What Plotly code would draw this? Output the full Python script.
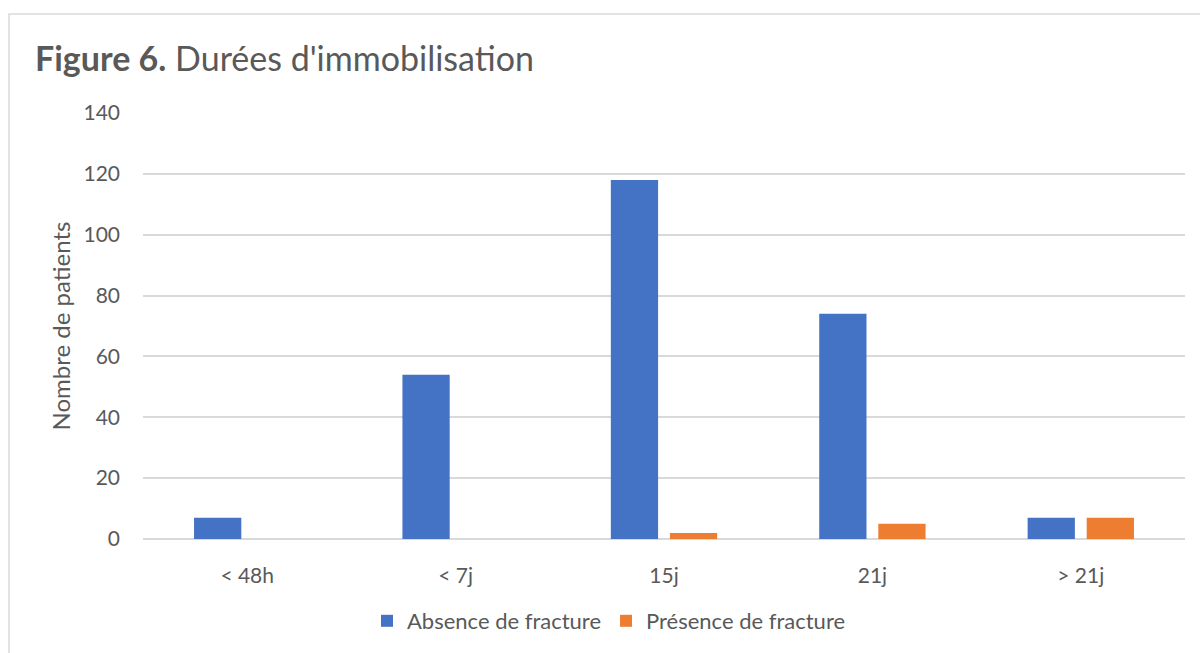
import plotly.graph_objects as go

categories = ["< 48h", "< 7j", "15j", "21j", "> 21j"]
absence = [7, 54, 118, 74, 7]
presence = [0, 0, 2, 5, 7]
series_names = ["Absence de fracture", "Présence de fracture"]
y_ticks = [0, 20, 40, 60, 80, 100, 120, 140]

W, H = 1200, 653
ML, MR, MT, MB = 143, 15, 113, 114
PW = W - ML - MR
PH = H - MT - MB

FONT = "Lato, 'Open Sans', sans-serif"
TXT = "#595959"

fig = go.Figure()
fig.add_trace(go.Bar(x=categories, y=absence, name=series_names[0],
                     marker=dict(color="#4472C4", line=dict(width=0))))
fig.add_trace(go.Bar(x=categories, y=presence, name=series_names[1],
                     marker=dict(color="#ED7D31", line=dict(width=0))))

def px_x(p):
    return (p - ML) / PW

def px_y(p):
    return (H - MB - p) / PH

fig.update_layout(
    width=W, height=H,
    margin=dict(l=ML, r=MR, t=MT, b=MB, autoexpand=False),
    paper_bgcolor="white", plot_bgcolor="white",
    barmode="group", bargap=0.433, bargroupgap=0.2,
    font=dict(family=FONT, color=TXT, size=21),
    title=dict(text="<b>Figure 6.</b> Durées d'immobilisation",
               x=35 / W, xanchor="left", xref="container",
               y=1 - 59 / H, yanchor="middle", yref="container",
               font=dict(family=FONT, size=34, color=TXT)),
    xaxis=dict(showgrid=False, showline=False, zeroline=False, ticks="",
               tickfont=dict(size=21, color=TXT), ticklabelstandoff=22),
    yaxis=dict(range=[0, 140], tickvals=y_ticks, showgrid=True,
               gridcolor="#d9d9d9", gridwidth=1.5, zeroline=True,
               zerolinecolor="#d9d9d9", zerolinewidth=1.5, showline=False,
               ticks="", tickfont=dict(size=21, color=TXT), ticklabelstandoff=22,
               title=dict(text="Nombre de patients", standoff=6,
                          font=dict(size=24, color=TXT))),
    legend=dict(orientation="h", x=px_x(609), xanchor="center",
                y=px_y(621), yanchor="middle", font=dict(size=22, color=TXT),
                itemclick=False, tracegroupgap=0),
    shapes=[dict(type="rect", xref="paper", yref="paper",
                 x0=px_x(9), x1=px_x(1210), y0=px_y(670), y1=px_y(14),
                 line=dict(color="#d9d9d9", width=1.5), layer="below")],
)

fig.write_html("out.html", config={"displayModeBar": False},
               post_script="document.body.style.margin='0';document.body.style.overflow='hidden';")
